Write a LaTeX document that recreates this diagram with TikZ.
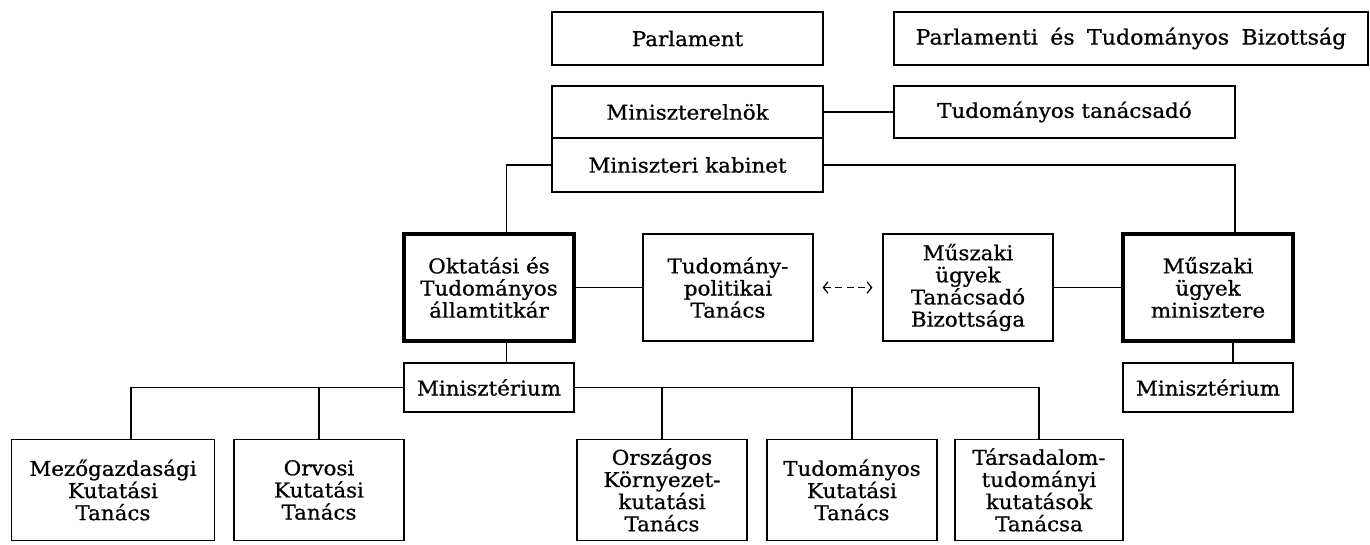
\documentclass[tikz,border=0pt]{standalone}
\usepackage{fontspec}
\setmainfont{DejaVu Serif}[FakeStretch=1.05, FakeBold=0.8]
\usetikzlibrary{arrows.meta}
\usetikzlibrary{positioning}
\usetikzlibrary{calc}

\begin{document}
\begin{tikzpicture}
      \tikzset{b/.style={rectangle, draw, line width=0.7pt, minimum width=3.4cm, inner sep=2pt, align=center, font=\fontsize{11.6}{12.6}\selectfont}}
      \tikzset{bk/.style={b, line width=1.8pt}}
      \tikzset{c/.style={line width=0.7pt}}
      \tikzset{hegy/.tip={Straight Barb[length=2.6pt, width=6.5pt]}}
      \useasboundingbox (0,0) rectangle (27.4,10.88);

      % ---- Felso sor : Parlament, kormany ----
      \node[b, minimum width=5.42cm, minimum height=1.06cm] (parl) at (13.75,10.11) {Parlament};
      \node[b, minimum width=9.48cm, minimum height=1.06cm, font=\fontsize{12}{13}\selectfont] (ptb) at (22.62,10.11) {Parlamenti\hspace{0.25em} és\hspace{0.25em} Tudományos\hspace{0.25em} Bizottság};
      \node[b, minimum width=5.42cm, minimum height=1.04cm] (me) at (13.75,8.64) {Miniszterelnök};
      \node[b, minimum width=5.42cm, minimum height=1.08cm] (kab) at (13.75,7.58) {Miniszteri kabinet};
      \node[b, minimum width=6.82cm, minimum height=1.04cm] (tt) at (21.29,8.64) {Tudományos tanácsadó};

      % ---- Kozepso sor ----
      \node[bk, minimum height=2.14cm] (okt) at (9.78,5.13) {Oktatási és\\Tudományos\\államtitkár};
      \node[b, minimum height=2.14cm] (tpt) at (14.56,5.13) {Tudomány-\\politikai\\Tanács};
      \node[b, minimum height=2.14cm] (mtb) at (19.36,5.13) {Műszaki\\ügyek\\Tanácsadó\\Bizottsága};
      \node[bk, minimum height=2.14cm] (mm) at (24.16,5.13) {Műszaki\\ügyek\\minisztere};
      \node[b, minimum height=0.98cm] (min1) at (9.78,3.13) {Minisztérium};
      \node[b, minimum height=0.98cm] (min2) at (24.16,3.13) {Minisztérium};

      % ---- Also sor : tanacsok ----
      \node[b, minimum width=4.06cm, minimum height=2.02cm] (mezo) at (2.26,1.08) {Mezőgazdasági\\Kutatási\\Tanács};
      \node[b, minimum height=2.02cm] (orv) at (6.38,1.08) {Orvosi\\Kutatási\\Tanács};
      \node[b, minimum height=2.02cm] (orsz) at (13.24,1.08) {Országos\\Környezet-\\kutatási\\Tanács};
      \node[b, minimum height=2.02cm] (tku) at (17.04,1.08) {Tudományos\\Kutatási\\Tanács};
      \node[b, minimum width=3.36cm, minimum height=2.02cm] (tars) at (20.78,1.08) {Társadalom-\\tudományi\\kutatások\\Tanácsa};

      % ---- Vonalak ----
      \draw[c] (me) -- (tt);
      \draw[c] (kab.west) -| ([xshift=3.5mm]okt.north);
      \draw[c] (kab.east) -| ([xshift=5.4mm]mm.north);
      \draw[c] (okt) -- (tpt);
      \draw[c] (mtb) -- (mm);
      \draw[c, hegy-hegy, dash pattern=on 4pt off 2.5pt, shorten <=1.8mm, shorten >=2mm] (tpt) -- (mtb);
      \draw[c] ([xshift=3.5mm]okt.south) -- ([xshift=3.5mm]min1.north);
      \draw[c] ([xshift=5mm]mm.south) -- ([xshift=5mm]min2.north);
      \draw[c] (min1.west) -| ([xshift=3.6mm]mezo.north);
      \draw[c] (min1.west) -| (orv.north);
      \draw[c] (min1.east) -| (orsz.north);
      \draw[c] (min1.east) -| (tku.north);
      \draw[c] (min1.east) -| (tars.north);

      \end{tikzpicture}
\end{document}
